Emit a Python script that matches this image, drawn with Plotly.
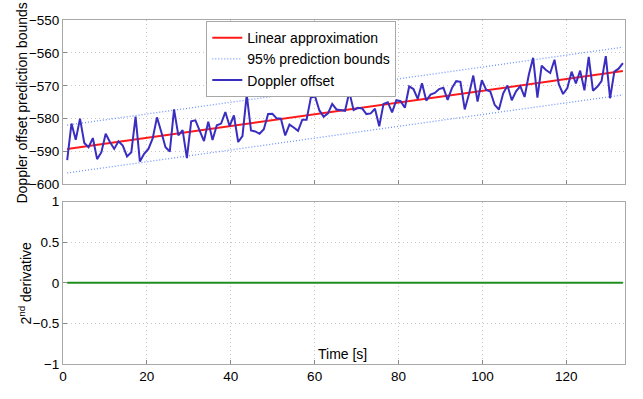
import numpy as np
import plotly.graph_objects as go
from plotly.subplots import make_subplots

# ---- data ----
doppler_offset = [
    -592.6, -581.5, -586.4, -580.0, -587.4, -588.7, -585.9, -592.3, -590.2, -584.6,
    -587.1, -589.2, -586.9, -588.2, -591.5, -590.2, -579.4, -593.0, -590.7, -589.2,
    -586.0, -579.6, -584.0, -588.7, -590.0, -577.2, -585.1, -583.5, -592.0, -580.8,
    -580.5, -583.8, -586.8, -580.9, -586.5, -582.0, -581.5, -578.0, -582.3, -579.0,
    -587.1, -585.3, -572.7, -583.6, -583.9, -584.6, -583.2, -578.6, -578.5, -579.9,
    -580.0, -585.1, -581.8, -582.7, -583.7, -580.3, -580.3, -573.6, -573.3, -577.5,
    -579.4, -578.4, -575.5, -577.2, -577.5, -577.6, -571.9, -577.4, -576.7, -576.9,
    -578.6, -578.4, -577.0, -582.3, -575.5, -575.0, -578.1, -574.4, -574.7, -576.7,
    -570.2, -571.0, -574.0, -569.2, -574.5, -572.7, -572.2, -571.0, -570.6, -574.3,
    -570.7, -568.6, -568.8, -577.2, -572.5, -566.9, -574.8, -568.3, -571.2, -571.8,
    -575.8, -577.2, -572.3, -569.9, -574.4, -571.7, -570.1, -573.4, -566.6, -561.5,
    -573.6, -563.9, -565.2, -566.1, -562.1, -569.5, -572.5, -570.7, -565.7, -569.3,
    -565.4, -571.4, -561.2, -571.5, -570.3, -568.6, -561.0, -573.8, -565.7, -564.8,
    -563.1,
]
time_start, time_end = 1.0, 133.5
time_s = np.linspace(time_start, time_end, len(doppler_offset))
second_derivative = [0.0] * len(doppler_offset)

x_ticks = [0, 20, 40, 60, 80, 100, 120]
top_y_ticks = [-600, -590, -580, -570, -560, -550]
bottom_y_ticks = [-1, -0.5, 0, 0.5, 1]

# ---- linear approximation and 95% prediction bounds ----
y = np.array(doppler_offset)
n = len(y)
slope, intercept = np.polyfit(time_s, y, 1)
fit = intercept + slope * time_s
resid = y - fit
s = np.sqrt(np.sum(resid ** 2) / (n - 2))
t_crit = 1.979
sxx = np.sum((time_s - time_s.mean()) ** 2)
half = t_crit * s * np.sqrt(1 + 1 / n + (time_s - time_s.mean()) ** 2 / sxx)
upper = fit + half
lower = fit - half

fig = make_subplots(rows=2, cols=1, shared_xaxes=False, vertical_spacing=0.035)

doppler_col = "#3a2ec0"
red_col = "#ff1a1a"
bound_col = "#6f94ff"

fig.add_trace(go.Scatter(x=time_s, y=fit, mode="lines", name="Linear approximation",
                         line=dict(color=red_col, width=2)), row=1, col=1)
fig.add_trace(go.Scatter(x=time_s, y=upper, mode="lines", name="95% prediction bounds",
                         line=dict(color=bound_col, width=1.3, dash="1px,2px")), row=1, col=1)
fig.add_trace(go.Scatter(x=time_s, y=lower, mode="lines", name="95% prediction bounds",
                         showlegend=False,
                         line=dict(color=bound_col, width=1.3, dash="1px,2px")), row=1, col=1)
fig.add_trace(go.Scatter(x=time_s, y=doppler_offset, mode="lines", name="Doppler offset",
                         line=dict(color=doppler_col, width=2)), row=1, col=1)
fig.add_trace(go.Scatter(x=time_s, y=second_derivative, mode="lines", showlegend=False,
                         line=dict(color="#1f8f1f", width=2)), row=2, col=1)

font = dict(family="Liberation Sans, Arial, sans-serif", size=14, color="black")
tick_font = dict(family="Liberation Sans, Arial, sans-serif", size=13.5, color="black")
axis_common = dict(showline=True, mirror=True, linecolor="#a8a8a8", linewidth=1,
                   ticks="inside", ticklen=4, tickcolor="#888888",
                   showgrid=True, gridcolor="#c8c8c8", griddash="1px,3px", gridwidth=1,
                   zeroline=False, tickfont=tick_font)

fig.update_xaxes(range=[0, 134], tickvals=x_ticks, **axis_common)
fig.update_xaxes(showticklabels=False, row=1, col=1)
fig.update_yaxes(range=[-600, -550], tickvals=top_y_ticks, row=1, col=1, **axis_common)
fig.update_yaxes(range=[-1, 1], tickvals=bottom_y_ticks, row=2, col=1, **axis_common)

fig.update_layout(
    width=643, height=399,
    margin=dict(l=63, r=18, t=20, b=35),
    paper_bgcolor="white", plot_bgcolor="white",
    font=font,
    showlegend=True,
    legend=dict(x=0.255, y=0.997, xanchor="left", yanchor="top",
                bgcolor="white", bordercolor="#a8a8a8", borderwidth=1,
                font=font, itemwidth=30, tracegroupgap=0),
)
fig.update_layout(yaxis=dict(domain=[0.522, 1.0]), yaxis2=dict(domain=[0.0, 0.472]))

fig.add_annotation(text="Doppler offset prediction bounds", textangle=-90,
                   xref="paper", yref="paper", x=-0.073, y=0.76,
                   showarrow=False, font=font, xanchor="center", yanchor="middle")
fig.add_annotation(text="2<sup>nd</sup> derivative", textangle=-90,
                   xref="paper", yref="paper", x=-0.068, y=0.236,
                   showarrow=False, font=font, xanchor="center", yanchor="middle")
fig.add_annotation(text="Time [s]", xref="paper", yref="paper", x=0.498, y=0.0,
                   showarrow=False, font=font, xanchor="center", yanchor="bottom")

fig.write_html("out.html")
